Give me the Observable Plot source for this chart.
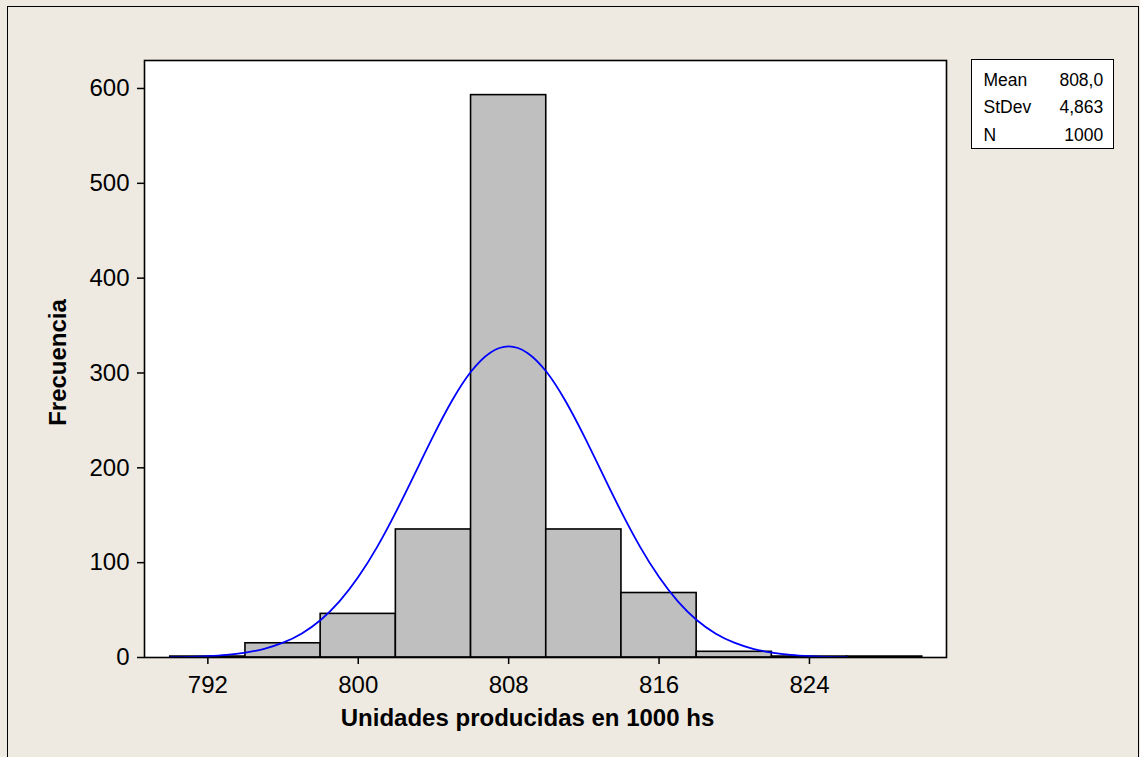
<!DOCTYPE html>
<html><head><meta charset="utf-8">
<script src="https://cdn.jsdelivr.net/npm/d3@7"></script>
<script src="https://cdn.jsdelivr.net/npm/@observablehq/plot@0.6"></script>
<style>
html,body{margin:0;padding:0;background:#EEEAE1;overflow:hidden;}
#wrap{position:relative;width:1140px;height:757px;}
#border{position:absolute;left:7px;top:6px;width:1132px;height:800px;border:1.5px solid #000;box-sizing:border-box;}
#chart{position:absolute;left:0;top:0;}
#stats{position:absolute;left:971px;top:59px;width:143px;height:90px;border:1.5px solid #000;background:#fff;box-sizing:border-box;font-family:"Liberation Sans",Arial,sans-serif;font-size:17.5px;line-height:17px;color:#000;}
.row{position:absolute;left:11.5px;right:9.8px;height:17px;}
.row .v{position:absolute;right:0;top:0;}
.row .l{position:absolute;left:0;top:0;}
</style>
</head><body>
<div id="wrap"><div id="border"></div><div id="chart"></div><div id="stats"></div></div>
<script>
// Histogram bins (lower edges) and counts
const binStart = [790, 794, 798, 802, 806, 810, 814, 818, 822, 826];
const binWidth = 4;
const counts = [1, 15, 46, 135, 593, 135, 68, 6, 1, 1];
// Fitted normal curve
const curveX = [790,791,792,793,794,795,796,797,798,799,800,801,802,803,804,805,806,807,808,809,810,811,812,813,814,815,816,817,818,819,820,821,822,823,824,825,826];
const curveY = [0.4,0.7,1.5,2.8,5.2,9.2,15.6,25.4,39.6,59.2,84.8,116.4,153.3,193.4,233.9,271.2,301.5,321.2,328.1,321.2,301.5,271.2,233.9,193.4,153.3,116.4,84.8,59.2,39.6,25.4,15.6,9.2,5.2,2.8,1.5,0.7,0.4];
const xTicks = [792, 800, 808, 816, 824];
const yTicks = [0, 100, 200, 300, 400, 500, 600];
const xLabel = "Unidades producidas en 1000 hs";
const yLabel = "Frecuencia";
const statLabels = ["Mean", "StDev", "N"];
const statValues = ["808,0", "4,863", "1000"];

const bars = binStart.map((s, i) => ({x1: s, x2: s + binWidth, y: counts[i]}));
const fit = curveX.map((x, i) => ({x, y: curveY[i]}));

const chart = Plot.plot({
  width: 1140, height: 757,
  marginLeft: 144, marginRight: 194, marginTop: 60, marginBottom: 100,
  style: {background: "transparent", fontFamily: "'Liberation Sans', Arial, sans-serif", fontSize: "24px", color: "#000", overflow: "visible"},
  x: {domain: [788.63, 831.29]},
  y: {domain: [0, 629.5]},
  marks: [
    Plot.frame({fill: "#fff", stroke: null}),
    Plot.rect(bars, {x1: "x1", x2: "x2", y1: 0, y2: "y", fill: "#BFBFBF", stroke: "#000", strokeWidth: 1.6}),
    Plot.line(fit, {x: "x", y: "y", stroke: "#0000FF", strokeWidth: 1.8, curve: "natural"}),
    Plot.frame({stroke: "#000", strokeWidth: 1.6}),
    Plot.axisX({ticks: xTicks, tickSize: 7, tickPadding: 11, label: null, tickFormat: d => String(d), strokeWidth: 1.5}),
    Plot.axisY({ticks: yTicks, tickSize: 7, tickPadding: 8, label: null, tickFormat: d => String(d), strokeWidth: 1.5}),
    Plot.text([xLabel], {frameAnchor: "bottom", dx: -18, dy: 68, lineAnchor: "bottom", fontWeight: "bold", fontSize: 24}),
    Plot.text([yLabel], {frameAnchor: "left", textAnchor: "middle", lineAnchor: "middle", rotate: -90, dx: -86.5, dy: 3.5, fontWeight: "bold", fontSize: 24})
  ]
});
document.getElementById("chart").append(chart);

const stats = document.getElementById("stats");
const tops = [11.8, 39.1, 66.8];
statLabels.forEach((lab, i) => {
  const row = document.createElement("div");
  row.className = "row";
  row.style.top = tops[i] + "px";
  row.innerHTML = `<span class="l">${lab}</span><span class="v">${statValues[i]}</span>`;
  stats.append(row);
});
</script>
</body></html>
